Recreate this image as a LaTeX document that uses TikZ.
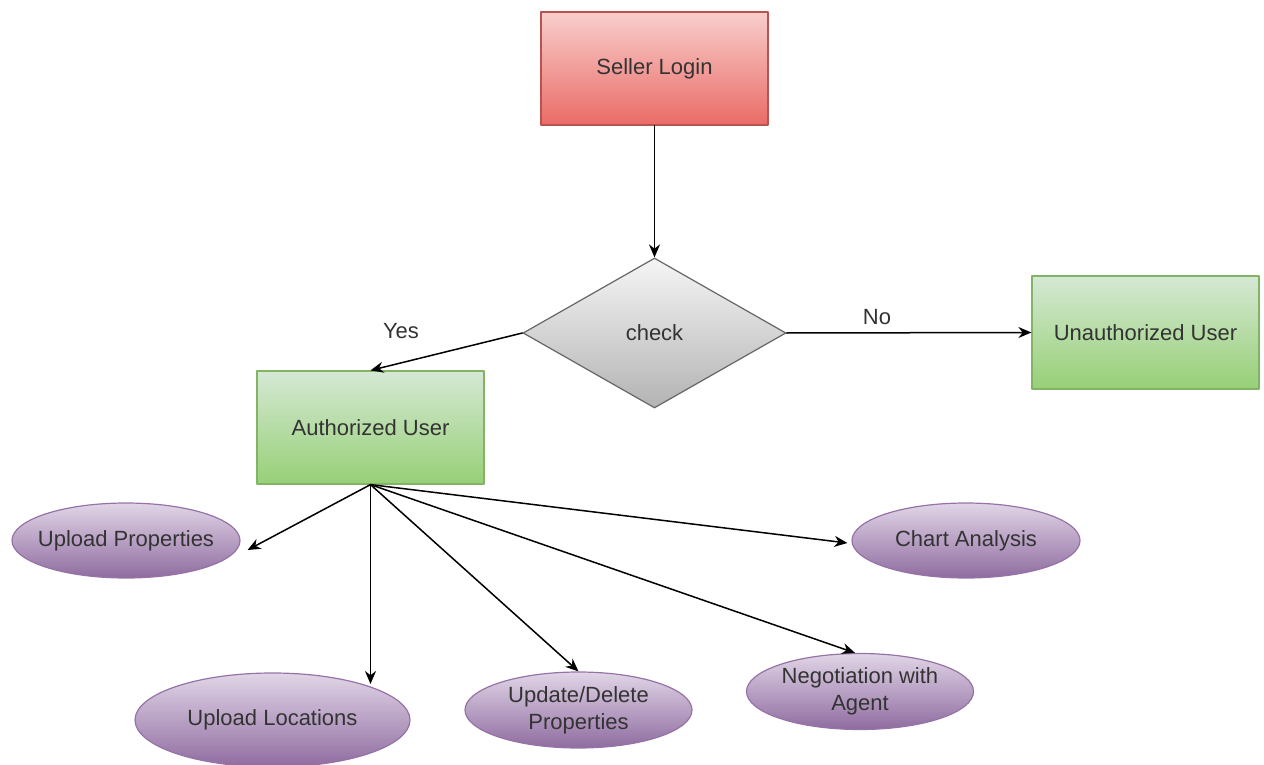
\documentclass[tikz,border=0pt]{standalone}
\usepackage{fontspec}
\setmainfont{Liberation Sans}
\usetikzlibrary{arrows.meta,shapes.geometric}
\definecolor{fcecec}{HTML}{F8CECC}
\definecolor{ea6b66}{HTML}{EA6B66}
\definecolor{b85450}{HTML}{B85450}
\definecolor{d5e8d4}{HTML}{D5E8D4}
\definecolor{97d077}{HTML}{97D077}
\definecolor{82b366}{HTML}{82B366}
\definecolor{e1d5e7}{HTML}{E1D5E7}
\definecolor{8f6ca0}{HTML}{8F6CA0}
\definecolor{9673a6}{HTML}{9673A6}
\definecolor{f5f5f5}{HTML}{F5F5F5}
\definecolor{b3b3b3}{HTML}{B3B3B3}
\definecolor{666666}{HTML}{666666}
\definecolor{txtgray}{HTML}{333333}
\tikzset{
  redbox/.style={draw=b85450,line width=1.2pt,top color=fcecec,bottom color=ea6b66,minimum width=227pt,minimum height=113pt,inner sep=0pt},
  greenbox/.style={draw=82b366,line width=1.2pt,top color=d5e8d4,bottom color=97d077,minimum width=227pt,minimum height=113pt,inner sep=0pt},
  checkdiamond/.style={diamond,draw=666666,line width=1.2pt,top color=f5f5f5,bottom color=b3b3b3,minimum width=263pt,minimum height=150pt,inner sep=0pt},
  purpleoval/.style={ellipse,draw=9673a6,line width=1.2pt,top color=e1d5e7,bottom color=8f6ca0,minimum width=227pt,minimum height=76pt,inner xsep=-12pt,inner ysep=0pt,align=center},
  flow/.style={->,line width=1.5pt},
  lbl/.style={inner sep=0pt}
}
\begin{document}
\begin{tikzpicture}[line cap=round,line join=round,>={Stealth[length=13pt,width=11pt]},x=1pt,y=-1pt,font=\fontsize{22}{27}\selectfont,every node/.append style={text=txtgray}]
\useasboundingbox (0,0) rectangle (1264,765);

\node[redbox] (login) at (654.5,68.5) {Seller Login};
\node[checkdiamond] (check) at (654.5,333) {check};
\node[greenbox] (unauth) at (1145.5,332.5) {Unauthorized User};
\node[greenbox] (auth) at (370.5,427.5) {Authorized User};
\node[purpleoval,minimum width=228pt,minimum height=75pt] (upprop) at (126,540.5) {Upload Properties};
\node[purpleoval,minimum width=228pt,minimum height=75pt] (chart) at (966,540.5) {Chart Analysis};
\node[purpleoval,minimum width=275pt,minimum height=94pt] (uploc) at (272.5,720) {Upload Locations};
\node[purpleoval] (upd) at (578.5,710) {Update/Delete\\Properties};
\node[purpleoval] (neg) at (860,691.5) {Negotiation with\\Agent};
\node[lbl] (yes) at (401,331) {Yes};
\node[lbl] (no) at (877,317) {No};
\coordinate (uploctip) at (370.5,684);

\draw[flow] (login) -- (check);
\draw[flow] (check.west) -- (auth.north);
\draw[flow] (check.east) -- (unauth.west);
\draw[flow] (auth.south) -- ([xshift=7pt,yshift=-9.5pt]upprop.east);
\draw[flow] (auth.south) -- (uploctip);
\draw[flow] (auth.south) -- (upd.north);
\draw[flow] (auth.south) -- ([xshift=-5pt]neg.north);
\draw[flow] (auth.south) -- ([xshift=-4pt,yshift=-2.5pt]chart.west);

\end{tikzpicture}
\end{document}
